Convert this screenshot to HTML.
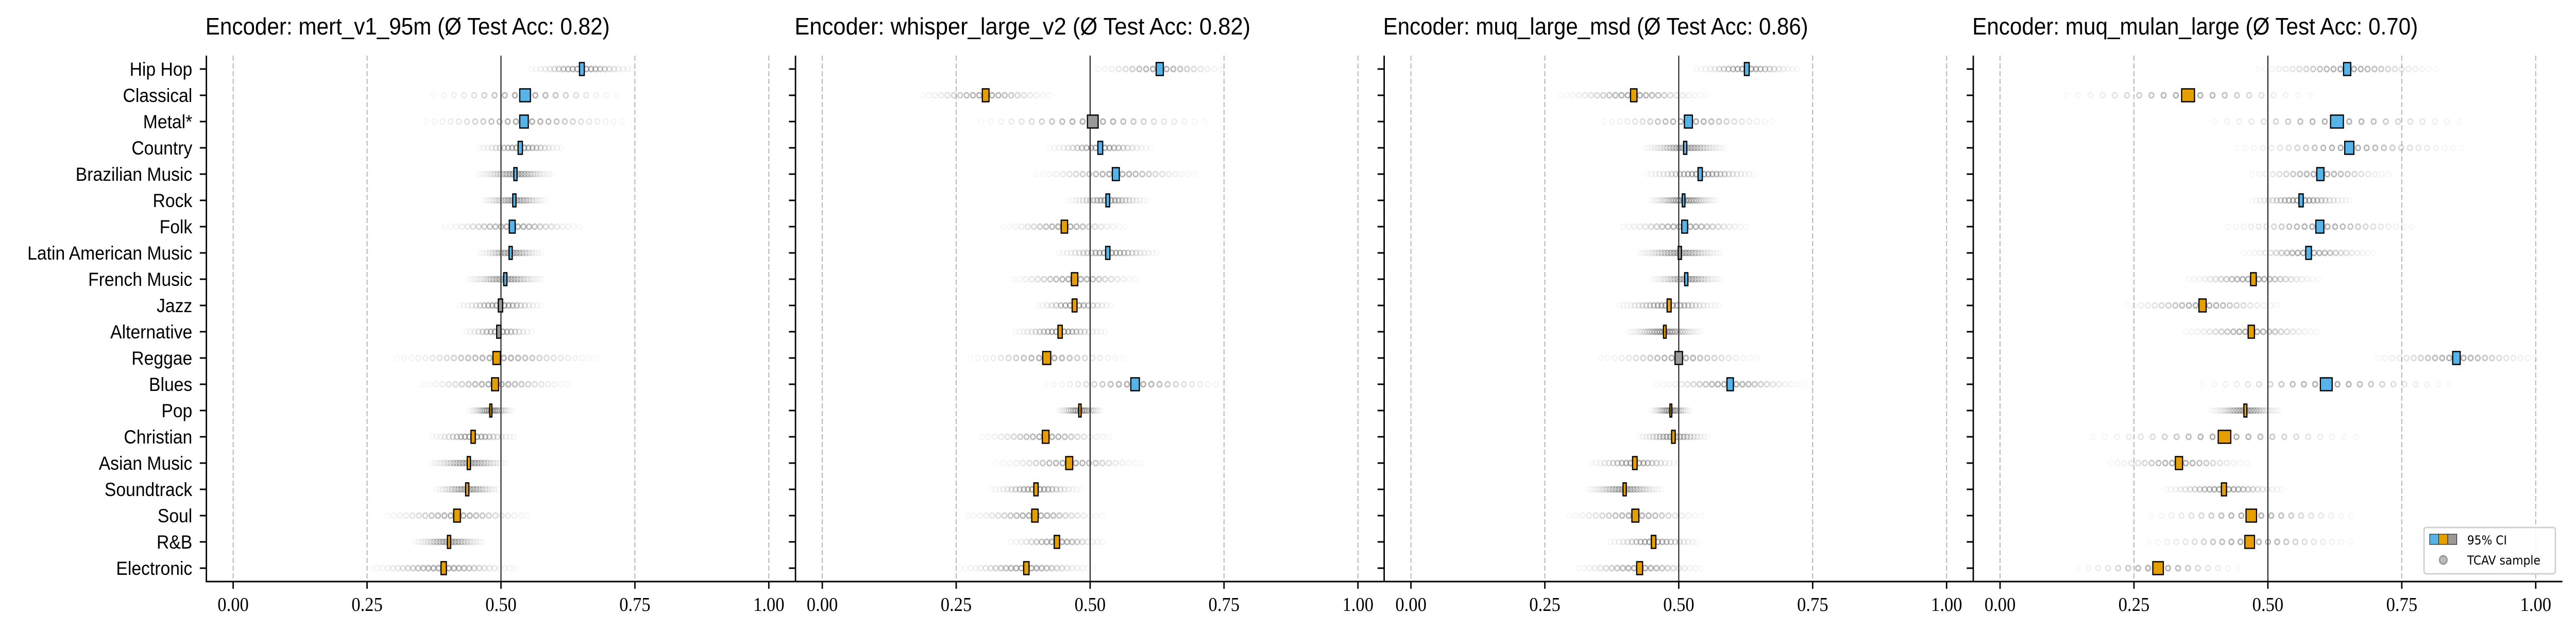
<!DOCTYPE html>
<html><head><meta charset="utf-8"><style>
html,body{margin:0;padding:0;background:#fff;overflow:hidden;width:100%;height:100%;}
svg{display:block;width:100vw;height:100vh;}
</style></head><body>
<svg id="chart" xmlns="http://www.w3.org/2000/svg" viewBox="0 0 5492 1225" preserveAspectRatio="none">
<rect x="0" y="0" width="5492" height="1225" fill="#fff"/>
</svg>
<script>
const categories = ["Hip Hop","Classical","Metal*","Country","Brazilian Music","Rock","Folk","Latin American Music","French Music","Jazz","Alternative","Reggae","Blues","Pop","Christian","Asian Music","Soundtrack","Soul","R&B","Electronic"];
const encoderNames = ["mert_v1_95m","whisper_large_v2","muq_large_msd","muq_mulan_large"];
const testAcc = ["0.82","0.82","0.86","0.70"];
const xTicks = [0, 0.25, 0.5, 0.75, 1.0];
const xTickLabels = ["0.00","0.25","0.50","0.75","1.00"];

const meansP1 = [0.651,0.545,0.543,0.536,0.527,0.525,0.521,0.518,0.508,0.499,0.496,0.492,0.489,0.481,0.448,0.440,0.437,0.418,0.403,0.393];
const ciP1    = [0.009,0.020,0.016,0.008,0.006,0.006,0.011,0.006,0.006,0.008,0.008,0.014,0.013,0.004,0.008,0.006,0.006,0.0125,0.006,0.010];
const spreadP1= [0.10,0.18,0.195,0.082,0.07,0.062,0.133,0.059,0.07,0.082,0.066,0.19,0.145,0.04,0.082,0.074,0.0625,0.14,0.068,0.137];

const meansP2 = [0.630,0.305,0.505,0.519,0.548,0.533,0.452,0.533,0.471,0.471,0.444,0.419,0.584,0.481,0.417,0.461,0.399,0.397,0.438,0.381];
const ciP2    = [0.0134,0.0125,0.020,0.009,0.013,0.007,0.012,0.008,0.012,0.009,0.008,0.015,0.016,0.0045,0.0125,0.013,0.008,0.012,0.010,0.010];
const spreadP2= [0.125,0.127,0.219,0.098,0.152,0.076,0.114,0.096,0.125,0.074,0.087,0.143,0.17,0.042,0.125,0.136,0.085,0.13,0.092,0.125];

const meansP3 = [0.627,0.416,0.518,0.512,0.540,0.509,0.511,0.502,0.514,0.482,0.474,0.500,0.596,0.485,0.490,0.418,0.399,0.419,0.453,0.427];
const ciP3    = [0.009,0.012,0.015,0.006,0.008,0.005,0.011,0.006,0.006,0.0075,0.005,0.014,0.012,0.003,0.0067,0.0085,0.006,0.013,0.0085,0.011];
const spreadP3= [0.096,0.139,0.163,0.076,0.105,0.063,0.125,0.078,0.065,0.096,0.067,0.15,0.139,0.036,0.069,0.085,0.071,0.13,0.087,0.123];

const meansP4 = [0.648,0.351,0.629,0.652,0.598,0.562,0.597,0.576,0.473,0.378,0.469,0.852,0.609,0.458,0.419,0.334,0.418,0.469,0.466,0.295];
const ciP4    = [0.0134,0.024,0.024,0.017,0.0134,0.008,0.015,0.0106,0.0106,0.0134,0.0117,0.014,0.022,0.0056,0.0235,0.0134,0.0095,0.0196,0.018,0.0196];
const spreadP4= [0.168,0.235,0.246,0.21,0.14,0.098,0.182,0.123,0.126,0.151,0.129,0.157,0.238,0.064,0.257,0.137,0.117,0.196,0.196,0.157];

const panelMeans = [meansP1, meansP2, meansP3, meansP4];
const panelCI = [ciP1, ciP2, ciP3, ciP4];
const panelSpread = [spreadP1, spreadP2, spreadP3, spreadP4];

const NS = "http://www.w3.org/2000/svg";
const svg = document.getElementById('chart');
const origins = [440, 1696, 2951, 4207];
const unit = 1142;
const axisTop = 108, axisBottom = 1129;
function xScale(p, v){ return origins[p] + (v + 0.05) * unit; }
function yScale(i){ return 134 + i * 51; }
function mk(tag, attrs, parent){
  const e = document.createElementNS(NS, tag);
  for (const k in attrs) e.setAttribute(k, attrs[k]);
  (parent || svg).appendChild(e);
  return e;
}

for (let p = 0; p < 4; p++) {
  const g = mk('g', {});
  
  

  const titleStr = 'Encoder: ' + encoderNames[p] + ' (\u00D8 Test Acc: ' + testAcc[p] + ')';
  const t = mk('text', {x: origins[p] - 2, y: 67, 'font-family': '"Liberation Sans", "DejaVu Sans", sans-serif', 'font-size': 46, fill: '#000', textLength: Math.round(titleStr.length * 22.1), lengthAdjust: 'spacingAndGlyphs'}, g);
  t.textContent = titleStr;
  
  

  for (let k = 0; k < xTicks.length; k++) {
    const xv = xScale(p, xTicks[k]);
    if (xTicks[k] === 0.5) {
      const l = mk('line', {x1: xv, x2: xv, y1: axisTop, y2: axisBottom, stroke: '#000', 'stroke-width': 2}, g);
      
      
    } else {
      const l = mk('line', {x1: xv, x2: xv, y1: axisTop, y2: axisBottom, stroke: '#b0b0b0', 'stroke-width': 2, 'stroke-dasharray': '10,5'}, g);
      
      
    }
  }

  const means = panelMeans[p], cis = panelCI[p], spreads = panelSpread[p];
  for (let i = 0; i < categories.length; i++) {
    const m = means[i], ci = cis[i], hr = spreads[i];
    const y = yScale(i);
    const sg = mk('g', {}, g);
    
    
    const sd = hr / 2.6;
    const step = Math.max(0.004, ci * 0.95);
    const n = Math.floor(hr / step);
    for (let k = -n; k <= n; k++) {
      const d = k * step;
      const a = 0.45 * Math.exp(-0.5 * (d / sd) * (d / sd)) + 0.02;
      const c = mk('circle', {cx: xScale(p, m + d), cy: y, r: 5, fill: 'none', stroke: '#555', 'stroke-width': 3, 'stroke-opacity': a.toFixed(3)}, sg);
      
      
    }
    const lo = m - ci / 2, hi = m + ci / 2;
    const col = lo > 0.5 ? '#56B4E9' : (hi < 0.5 ? '#E69F00' : '#999999');
    const x0 = xScale(p, lo), x1 = xScale(p, hi);
    const r = mk('rect', {x: x0, y: y - 12.5, width: Math.max(4, x1 - x0), height: 25, fill: col, stroke: '#000', 'stroke-width': 2.5}, g);
    
    
  }

  const ls = mk('line', {x1: origins[p], x2: origins[p], y1: axisTop, y2: axisBottom + 1.5, stroke: '#000', 'stroke-width': 3}, g);
  
  
  const bs = mk('line', {x1: origins[p] - 1.5, x2: origins[p] + 1256, y1: axisBottom, y2: axisBottom, stroke: '#000', 'stroke-width': 3}, g);
  
  

  for (let i = 0; i < categories.length; i++) {
    const y = yScale(i);
    const tk = mk('line', {x1: origins[p] - 14, x2: origins[p], y1: y, y2: y, stroke: '#000', 'stroke-width': 3}, g);
    
    
    if (p === 0) {
      const lb = mk('text', {x: 410, y: y + 13, 'text-anchor': 'end', 'font-family': '"Liberation Sans", "DejaVu Sans", sans-serif', 'font-size': 37, fill: '#000'}, g);
      lb.textContent = categories[i];
      
      
    }
  }
  for (let k = 0; k < xTicks.length; k++) {
    const xv = xScale(p, xTicks[k]);
    const tk = mk('line', {x1: xv, x2: xv, y1: axisBottom, y2: axisBottom + 14, stroke: '#000', 'stroke-width': 3}, g);
    
    
    const lb = mk('text', {x: xv, y: 1186, 'text-anchor': 'middle', 'font-family': '"Liberation Serif", "DejaVu Serif", serif', 'font-size': 38, fill: '#000'}, g);
    lb.textContent = xTickLabels[k];
    
    
  }
}

const lg = mk('g', {});


const lbox = mk('rect', {x: 5168, y: 1024, width: 280, height: 90, rx: 5, fill: '#fff', 'fill-opacity': 0.85, stroke: '#d0d0d0', 'stroke-width': 3}, lg);


const patchCols = ['#56B4E9', '#E69F00', '#999999'];
for (let k = 0; k < 3; k++) {
  const pr = mk('rect', {x: 5180 + k * 19.3, y: 1037, width: 19.3, height: 20, fill: patchCols[k], stroke: '#000', 'stroke-width': 1}, lg);
  
  
}
const lt1 = mk('text', {x: 5260, y: 1057, 'font-family': '"DejaVu Sans", "Liberation Sans", sans-serif', 'font-size': 24, fill: '#000'}, lg);
lt1.textContent = '95% CI';


const lc = mk('circle', {cx: 5209, cy: 1087, r: 8, fill: '#bbb', stroke: '#999', 'stroke-width': 3}, lg);


const lt2 = mk('text', {x: 5260, y: 1096, 'font-family': '"DejaVu Sans", "Liberation Sans", sans-serif', 'font-size': 24, fill: '#000'}, lg);
lt2.textContent = 'TCAV sample';


</script>
</body></html>
